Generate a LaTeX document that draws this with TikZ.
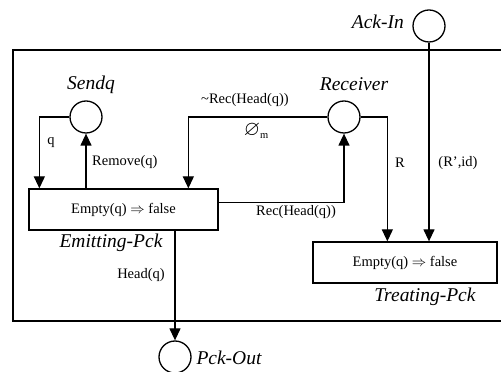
\documentclass[tikz,border=0pt]{standalone}
\usepackage{fontspec}
\usepackage{amssymb}
\setmainfont{Liberation Serif}
\usetikzlibrary{arrows.meta,calc}
\begin{document}
\begin{tikzpicture}[x=1pt,y=1pt,
  place/.style={circle,draw,line width=1.3pt,minimum size=32pt,inner sep=0pt},
  trans/.style={draw,line width=1.3pt,minimum width=#1,minimum height=41pt,inner sep=0pt,font=\fontsize{14.5}{17}\selectfont},
  lbl/.style={font=\fontsize{14.5}{17}\selectfont,inner sep=0pt},
  pname/.style={font=\fontsize{19.5}{22}\selectfont\itshape,inner sep=0pt},
  arr/.style={line width=1.3pt,-{Triangle[width=11pt,length=12pt]}},
  frame/.style={line width=1.8pt}]
\useasboundingbox (0,0) rectangle (501,372);
\draw[frame] (501,322) -- (13,322) -- (13,51) -- (501,51);
% places
\node[place] (ack) at (429,346) {};
\node[pname,anchor=east] (ackl) at (404,350) {Ack-In};
\node[place] (sendq) at (86,255) {};
\node[pname] (sendql) at (91,287) {Sendq};
\node[place] (recv) at (344,255) {};
\node[pname] (recvl) at (354,288) {Receiver};
\node[place] (pout) at (175,15) {};
\node[pname] (poutl) at (229,14) {Pck-Out};
% transitions
\node[trans=189pt] (emit) at (123.5,162.5) {Empty(q) $\Rightarrow$ false};
\node[pname] (emitl) at (111,129) {Emitting-Pck};
\node[trans=184pt] (treat) at (405,109.5) {Empty(q) $\Rightarrow$ false};
\node[pname] (treatl) at (425,75) {Treating-Pck};
% connectors
\draw[arr] (sendq.west) -| ($(emit.north west)+(11,0)$);
\draw[arr] (emit.north -| sendq.south) -- (sendq.south);
\draw[arr] (recv.west) -| ($(emit.north west)+(160,0)$);
\draw[arr] ($(emit.north east)+(0,-14)$) -| (recv.south);
\draw[arr] (recv.east) -| ($(treat.north west)+(75,0)$);
\draw[arr] (ack.south) -- (ack.south |- treat.north);
\draw[arr] (emit.south -| pout.north) -- (pout.north);
% labels
\node[lbl] (lq) at (51,229) {q};
\node[lbl,anchor=west] (lrem) at (92,210) {Remove(q)};
\node[lbl] (lnrec) at (245,272) {\textasciitilde Rec(Head(q))};
\node[lbl] (lempty) at (256,241) {{\fontsize{21}{24}\selectfont$\varnothing$}\raisebox{-3pt}{\fontsize{10.5}{12}\selectfont m}};
\node[lbl] (lrec) at (296,160) {Rec(Head(q))};
\node[lbl] (lr) at (400,209) {R};
\node[lbl] (lrid) at (458,209) {(R',id)};
\node[lbl] (lhead) at (141,97) {Head(q)};
\end{tikzpicture}
\end{document}
